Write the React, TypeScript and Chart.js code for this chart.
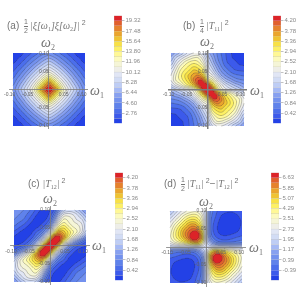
import React, { useEffect, useRef } from "react";
import { Chart, registerables, ScatterController } from "chart.js";

Chart.register(...registerables);

const axisSteps = [0.1, 0.0875, 0.075, 0.0625, 0.05, 0.0375, 0.025, 0.0125, 0, -0.0125, -0.025, -0.0375, -0.05, -0.0625, -0.075, -0.0875, -0.1];
const axisTicks = [-0.1, -0.05, 0.05, 0.1];

const bandColors = [
  "rgb(35,65,230)", "rgb(60,90,235)", "rgb(75,110,235)", "rgb(95,130,235)", "rgb(115,145,238)",
  "rgb(135,160,240)", "rgb(165,185,245)", "rgb(190,205,245)", "rgb(210,220,245)", "rgb(225,230,245)",
  "rgb(238,238,232)", "rgb(245,245,215)", "rgb(252,250,190)", "rgb(255,248,150)", "rgb(253,240,100)",
  "rgb(248,225,70)", "rgb(240,195,50)", "rgb(235,165,45)", "rgb(230,130,45)", "rgb(225,95,45)", "rgb(220,35,40)",
];

const ticksA = [19.32, 17.48, 15.64, 13.8, 11.96, 10.12, 8.28, 6.44, 4.6, 2.76];
const ticksB = [4.2, 3.78, 3.36, 2.94, 2.52, 2.1, 1.68, 1.26, 0.84, 0.42];
const ticksC = [4.2, 3.78, 3.36, 2.94, 2.52, 2.1, 1.68, 1.26, 0.84, 0.42];
const ticksD = [6.63, 5.85, 5.07, 4.29, 3.51, 2.73, 1.95, 1.17, 0.39, -0.39];

const gridA = [
  [1.1, 1.3, 1.7, 2.1, 2.7, 3.3, 3.9, 4.5, 5.0, 4.5, 3.9, 3.3, 2.7, 2.1, 1.7, 1.3, 1.1],
  [1.3, 1.7, 2.1, 2.8, 3.5, 4.2, 5.0, 5.7, 6.2, 5.7, 5.0, 4.2, 3.5, 2.8, 2.1, 1.7, 1.3],
  [1.7, 2.1, 2.8, 3.5, 4.4, 5.2, 6.1, 7.0, 7.6, 7.0, 6.1, 5.2, 4.4, 3.5, 2.8, 2.1, 1.7],
  [2.1, 2.8, 3.5, 4.5, 5.4, 6.4, 7.4, 8.3, 9.0, 8.3, 7.4, 6.4, 5.4, 4.5, 3.5, 2.8, 2.1],
  [2.7, 3.5, 4.4, 5.4, 6.5, 7.6, 8.7, 9.8, 10.6, 9.8, 8.7, 7.6, 6.5, 5.4, 4.4, 3.5, 2.7],
  [3.3, 4.2, 5.2, 6.4, 7.6, 8.8, 10.1, 11.5, 12.6, 11.5, 10.1, 8.8, 7.6, 6.4, 5.2, 4.2, 3.3],
  [3.9, 5.0, 6.1, 7.4, 8.7, 10.1, 11.8, 13.8, 15.5, 13.8, 11.8, 10.1, 8.7, 7.4, 6.1, 5.0, 3.9],
  [4.5, 5.7, 7.0, 8.3, 9.8, 11.5, 13.8, 16.4, 18.5, 16.4, 13.8, 11.5, 9.8, 8.3, 7.0, 5.7, 4.5],
  [5.0, 6.2, 7.6, 9.0, 10.6, 12.6, 15.5, 18.5, 20.2, 18.5, 15.5, 12.6, 10.6, 9.0, 7.6, 6.2, 5.0],
  [4.5, 5.7, 7.0, 8.3, 9.8, 11.5, 13.8, 16.4, 18.5, 16.4, 13.8, 11.5, 9.8, 8.3, 7.0, 5.7, 4.5],
  [3.9, 5.0, 6.1, 7.4, 8.7, 10.1, 11.8, 13.8, 15.5, 13.8, 11.8, 10.1, 8.7, 7.4, 6.1, 5.0, 3.9],
  [3.3, 4.2, 5.2, 6.4, 7.6, 8.8, 10.1, 11.5, 12.6, 11.5, 10.1, 8.8, 7.6, 6.4, 5.2, 4.2, 3.3],
  [2.7, 3.5, 4.4, 5.4, 6.5, 7.6, 8.7, 9.8, 10.6, 9.8, 8.7, 7.6, 6.5, 5.4, 4.4, 3.5, 2.7],
  [2.1, 2.8, 3.5, 4.5, 5.4, 6.4, 7.4, 8.3, 9.0, 8.3, 7.4, 6.4, 5.4, 4.5, 3.5, 2.8, 2.1],
  [1.7, 2.1, 2.8, 3.5, 4.4, 5.2, 6.1, 7.0, 7.6, 7.0, 6.1, 5.2, 4.4, 3.5, 2.8, 2.1, 1.7],
  [1.3, 1.7, 2.1, 2.8, 3.5, 4.2, 5.0, 5.7, 6.2, 5.7, 5.0, 4.2, 3.5, 2.8, 2.1, 1.7, 1.3],
  [1.1, 1.3, 1.7, 2.1, 2.7, 3.3, 3.9, 4.5, 5.0, 4.5, 3.9, 3.3, 2.7, 2.1, 1.7, 1.3, 1.1],
];

const gridB = [
  [1.1, 1.3, 1.5, 1.75, 2.0, 2.1, 2.1, 1.85, 1.4, 1.1, 0.85, 0.62, 0.42, 0.24, 0.14, 0.08, 0.05],
  [1.3, 1.65, 1.9, 2.15, 2.35, 2.5, 2.5, 2.15, 1.6, 1.25, 0.9, 0.66, 0.44, 0.26, 0.16, 0.12, 0.08],
  [1.5, 1.9, 2.25, 2.55, 2.75, 2.85, 2.75, 2.4, 1.8, 1.4, 1.0, 0.72, 0.48, 0.32, 0.25, 0.16, 0.14],
  [1.75, 2.15, 2.55, 2.8, 3.0, 3.15, 3.05, 2.75, 2.0, 1.6, 1.2, 0.85, 0.6, 0.45, 0.32, 0.26, 0.24],
  [2.0, 2.35, 2.75, 3.0, 3.2, 3.45, 3.35, 3.05, 2.2, 1.85, 1.4, 1.05, 0.8, 0.6, 0.48, 0.44, 0.42],
  [2.1, 2.5, 2.85, 3.15, 3.45, 3.7, 3.85, 3.45, 2.5, 2.2, 1.75, 1.3, 1.05, 0.85, 0.72, 0.66, 0.62],
  [2.1, 2.5, 2.75, 3.05, 3.35, 3.85, 4.2, 4.15, 3.1, 2.7, 2.2, 1.75, 1.4, 1.2, 1.0, 0.9, 0.85],
  [1.85, 2.15, 2.4, 2.75, 3.05, 3.45, 4.15, 4.5, 4.25, 3.4, 2.7, 2.2, 1.85, 1.6, 1.4, 1.25, 1.1],
  [1.4, 1.6, 1.8, 2.0, 2.2, 2.5, 3.1, 4.25, 4.62, 4.25, 3.1, 2.5, 2.2, 2.0, 1.8, 1.6, 1.4],
  [1.1, 1.25, 1.4, 1.6, 1.85, 2.2, 2.7, 3.4, 4.25, 4.5, 4.15, 3.45, 3.05, 2.75, 2.4, 2.15, 1.85],
  [0.85, 0.9, 1.0, 1.2, 1.4, 1.75, 2.2, 2.7, 3.1, 4.15, 4.2, 3.85, 3.35, 3.05, 2.75, 2.5, 2.1],
  [0.62, 0.66, 0.72, 0.85, 1.05, 1.3, 1.75, 2.2, 2.5, 3.45, 3.85, 3.7, 3.45, 3.15, 2.85, 2.5, 2.1],
  [0.42, 0.44, 0.48, 0.6, 0.8, 1.05, 1.4, 1.85, 2.2, 3.05, 3.35, 3.45, 3.2, 3.0, 2.75, 2.35, 2.0],
  [0.24, 0.26, 0.32, 0.45, 0.6, 0.85, 1.2, 1.6, 2.0, 2.75, 3.05, 3.15, 3.0, 2.8, 2.55, 2.15, 1.75],
  [0.14, 0.16, 0.25, 0.32, 0.48, 0.72, 1.0, 1.4, 1.8, 2.4, 2.75, 2.85, 2.75, 2.55, 2.25, 1.9, 1.5],
  [0.08, 0.12, 0.16, 0.26, 0.44, 0.66, 0.9, 1.25, 1.6, 2.15, 2.5, 2.5, 2.35, 2.15, 1.9, 1.65, 1.3],
  [0.05, 0.08, 0.14, 0.24, 0.42, 0.62, 0.85, 1.1, 1.4, 1.85, 2.1, 2.1, 2.0, 1.75, 1.5, 1.3, 1.1],
];

const gridC = [
  [0.98, 0.92, 0.85, 0.72, 0.55, 0.35, 0.18, 0.08, 0.2, 0.45, 1.05, 1.55, 1.75, 1.75, 1.55, 1.3, 1.05],
  [0.92, 0.85, 0.75, 0.6, 0.42, 0.22, 0.1, 0.1, 0.3, 0.75, 1.5, 2.1, 2.2, 2.1, 1.9, 1.6, 1.3],
  [0.85, 0.75, 0.65, 0.48, 0.28, 0.12, 0.08, 0.18, 0.45, 1.1, 1.95, 2.5, 2.45, 2.3, 2.05, 1.9, 1.55],
  [0.72, 0.6, 0.48, 0.32, 0.15, 0.08, 0.18, 0.35, 0.75, 1.55, 2.45, 2.8, 2.6, 2.4, 2.3, 2.1, 1.75],
  [0.55, 0.42, 0.28, 0.15, 0.08, 0.2, 0.35, 0.7, 1.2, 2.3, 3.0, 3.15, 2.9, 2.6, 2.45, 2.2, 1.75],
  [0.35, 0.22, 0.12, 0.08, 0.2, 0.45, 0.7, 1.2, 2.0, 3.1, 3.75, 3.5, 3.15, 2.8, 2.5, 2.1, 1.55],
  [0.18, 0.1, 0.08, 0.18, 0.35, 0.7, 1.15, 2.0, 3.1, 4.2, 4.3, 3.75, 3.0, 2.45, 1.95, 1.5, 1.05],
  [0.08, 0.1, 0.18, 0.35, 0.7, 1.2, 2.0, 3.0, 4.2, 4.5, 4.2, 3.1, 2.3, 1.55, 1.1, 0.75, 0.45],
  [0.2, 0.3, 0.45, 0.75, 1.2, 2.0, 3.1, 4.2, 4.62, 4.2, 3.1, 2.0, 1.2, 0.75, 0.45, 0.3, 0.2],
  [0.45, 0.75, 1.1, 1.55, 2.3, 3.1, 4.2, 4.5, 4.2, 3.0, 2.0, 1.2, 0.7, 0.35, 0.18, 0.1, 0.08],
  [1.05, 1.5, 1.95, 2.45, 3.0, 3.75, 4.3, 4.2, 3.1, 2.0, 1.15, 0.7, 0.35, 0.18, 0.08, 0.1, 0.18],
  [1.55, 2.1, 2.5, 2.8, 3.15, 3.5, 3.75, 3.1, 2.0, 1.2, 0.7, 0.45, 0.2, 0.08, 0.12, 0.22, 0.35],
  [1.75, 2.2, 2.45, 2.6, 2.9, 3.15, 3.0, 2.3, 1.2, 0.7, 0.35, 0.2, 0.08, 0.15, 0.28, 0.42, 0.55],
  [1.75, 2.1, 2.3, 2.4, 2.6, 2.8, 2.45, 1.55, 0.75, 0.35, 0.18, 0.08, 0.15, 0.32, 0.48, 0.6, 0.72],
  [1.55, 1.9, 2.05, 2.3, 2.45, 2.5, 1.95, 1.1, 0.45, 0.18, 0.08, 0.12, 0.28, 0.48, 0.65, 0.75, 0.85],
  [1.3, 1.6, 1.9, 2.1, 2.2, 2.1, 1.5, 0.75, 0.3, 0.1, 0.1, 0.22, 0.42, 0.6, 0.75, 0.85, 0.92],
  [1.05, 1.3, 1.55, 1.75, 1.75, 1.55, 1.05, 0.45, 0.2, 0.08, 0.18, 0.35, 0.55, 0.72, 0.85, 0.92, 0.98],
];

const gridD = [
  [1.5, 2.0, 2.5, 2.9, 3.2, 3.4, 3.4, 2.9, 1.9, 0.35, -0.2, -0.55, -0.7, -0.75, -0.75, -0.65, -0.5],
  [2.0, 2.5, 3.0, 3.5, 3.9, 4.1, 4.0, 3.4, 2.0, 0.25, -0.3, -0.7, -0.85, -0.9, -0.88, -0.8, -0.65],
  [2.5, 3.0, 3.5, 4.1, 4.6, 4.8, 4.6, 3.8, 2.1, 0.15, -0.45, -0.8, -0.95, -0.98, -0.95, -0.88, -0.75],
  [2.9, 3.5, 4.1, 4.7, 5.3, 5.6, 5.3, 4.3, 2.2, 0.1, -0.55, -0.88, -0.98, -1.0, -0.98, -0.9, -0.75],
  [3.2, 3.9, 4.6, 5.3, 5.9, 6.3, 6.1, 4.8, 2.3, 0.1, -0.6, -0.88, -0.95, -0.98, -0.95, -0.85, -0.7],
  [3.4, 4.1, 4.8, 5.6, 6.3, 6.9, 7.1, 5.3, 2.35, 0.2, -0.5, -0.8, -0.88, -0.88, -0.8, -0.7, -0.55],
  [3.4, 4.0, 4.6, 5.3, 6.1, 7.1, 6.9, 5.6, 2.4, 0.5, -0.2, -0.5, -0.6, -0.55, -0.45, -0.3, -0.2],
  [2.9, 3.4, 3.8, 4.3, 4.8, 5.3, 5.6, 4.4, 2.35, 1.2, 0.5, 0.2, 0.1, 0.1, 0.15, 0.25, 0.35],
  [1.9, 2.0, 2.1, 2.2, 2.3, 2.35, 2.4, 2.35, 2.3, 2.35, 2.4, 2.35, 2.3, 2.2, 2.1, 2.0, 1.9],
  [0.35, 0.25, 0.15, 0.1, 0.1, 0.2, 0.5, 1.2, 2.35, 4.4, 5.6, 5.3, 4.8, 4.3, 3.8, 3.4, 2.9],
  [-0.2, -0.3, -0.45, -0.55, -0.6, -0.5, -0.2, 0.5, 2.4, 5.6, 6.9, 7.1, 6.1, 5.3, 4.6, 4.0, 3.4],
  [-0.55, -0.7, -0.8, -0.88, -0.88, -0.8, -0.5, 0.2, 2.35, 5.3, 7.1, 6.9, 6.3, 5.6, 4.8, 4.1, 3.4],
  [-0.7, -0.85, -0.95, -0.98, -0.95, -0.88, -0.6, 0.1, 2.3, 4.8, 6.1, 6.3, 5.9, 5.3, 4.6, 3.9, 3.2],
  [-0.75, -0.9, -0.98, -1.0, -0.98, -0.88, -0.55, 0.1, 2.2, 4.3, 5.3, 5.6, 5.3, 4.7, 4.1, 3.5, 2.9],
  [-0.75, -0.88, -0.95, -0.98, -0.95, -0.8, -0.45, 0.15, 2.1, 3.8, 4.6, 4.8, 4.6, 4.1, 3.5, 3.0, 2.5],
  [-0.65, -0.8, -0.88, -0.9, -0.85, -0.7, -0.3, 0.25, 2.0, 3.4, 4.0, 4.1, 3.9, 3.5, 3.0, 2.5, 2.0],
  [-0.5, -0.65, -0.75, -0.75, -0.7, -0.55, -0.2, 0.35, 1.9, 2.9, 3.4, 3.4, 3.2, 2.9, 2.5, 2.0, 1.5],
];

const TICK = "#666666";
const BAR_TICK = "#8a8a8a";
const AXIS = "#7c7c7c";
const TEXT = "#757575";
const SERIF = "'Liberation Serif', serif";
const SANS = "'Liberation Sans', sans-serif";

function sampleGrid(values: number[], n: number, gx: number, gy: number) {
  const at = (r: number, c: number) =>
    values[Math.max(0, Math.min(n - 1, r)) * n + Math.max(0, Math.min(n - 1, c))];
  const cr = (p0: number, p1: number, p2: number, p3: number, t: number) =>
    0.5 * (2 * p1 + (p2 - p0) * t + (2 * p0 - 5 * p1 + 4 * p2 - p3) * t * t + (3 * p1 - p0 - 3 * p2 + p3) * t * t * t);
  const ix = Math.floor(gx), iy = Math.floor(gy);
  const tx = gx - ix, ty = gy - iy;
  const row = (r: number) => cr(at(r, ix - 1), at(r, ix), at(r, ix + 1), at(r, ix + 2), tx);
  return cr(row(iy - 1), row(iy), row(iy + 1), row(iy + 2), ty);
}

class ContourController extends ScatterController {
  static id = "contour";
  static defaults = { ...ScatterController.defaults };
  static overrides = ScatterController.overrides;
  draw() {
    const chart: any = this.chart;
    const { ctx } = chart;
    const sx = chart.scales.x, sy = chart.scales.y;
    const ds: any = this.getDataset();
    const n = ds.gridSize;
    const vals = ds.data.map((p: any) => p.v);
    const L = Math.round(sx.getPixelForValue(axisSteps[16])), R = Math.round(sx.getPixelForValue(axisSteps[0]));
    const T = Math.round(sy.getPixelForValue(axisSteps[0])), B = Math.round(sy.getPixelForValue(axisSteps[16]));
    const W = R - L, H = B - T;
    const f = new Float32Array((W + 1) * (H + 1));
    for (let r = 0; r <= H; r++)
      for (let c = 0; c <= W; c++)
        f[r * (W + 1) + c] = sampleGrid(vals, n, (c / W) * (n - 1), (r / H) * (n - 1));
    const lo = ds.levelLow, step = ds.levelStep;
    for (let r = 0; r < H; r++)
      for (let c = 0; c < W; c++) {
        const i = r * (W + 1) + c;
        const m = (f[i] + f[i + 1] + f[i + W + 1] + f[i + W + 2]) / 4;
        const k = Math.max(0, Math.min(20, Math.floor((m - lo) / step)));
        ctx.fillStyle = bandColors[k];
        ctx.fillRect(L + c, T + r, 1, 1);
      }
    ctx.strokeStyle = "rgba(50,50,50,0.55)";
    ctx.lineWidth = 0.5;
    for (let k = 1; k <= 20; k++) {
      const level = lo + k * step;
      ctx.beginPath();
      for (let r = 0; r < H; r++)
        for (let c = 0; c < W; c++) {
          const i = r * (W + 1) + c;
          const a = f[i], b = f[i + 1], d = f[i + W + 1], e = f[i + W + 2];
          const pts: number[][] = [];
          if (a < level !== b < level) pts.push([c + (level - a) / (b - a), r]);
          if (b < level !== e < level) pts.push([c + 1, r + (level - b) / (e - b)]);
          if (d < level !== e < level) pts.push([c + (level - d) / (e - d), r + 1]);
          if (a < level !== d < level) pts.push([c, r + (level - a) / (d - a)]);
          for (let q = 0; q + 1 < pts.length; q += 2) {
            ctx.moveTo(L + pts[q][0], T + pts[q][1]);
            ctx.lineTo(L + pts[q + 1][0], T + pts[q + 1][1]);
          }
        }
      ctx.stroke();
    }
  }
}
Chart.register(ContourController as any);

function HeatPanel({ left, top, cx, cy, grid, low, step, axisWidth }: any) {
  const ref = useRef<HTMLCanvasElement>(null);
  useEffect(() => {
    const size = 153;
    const half = 36 * 1.09;
    const data = grid.flatMap((row: number[], r: number) =>
      row.map((v, c) => ({ x: axisSteps[c], y: axisSteps[r], v }))
    );
    const common = (extra: any) => ({
      type: "linear",
      min: -0.109,
      max: 0.109,
      afterBuildTicks: (s: any) => { s.ticks = axisTicks.map((value) => ({ value })); },
      grid: { display: true, drawOnChartArea: false, tickLength: 1.5, tickColor: AXIS, tickWidth: 0.5, z: 2 },
      border: { display: true, color: AXIS, width: axisWidth, z: 2 },
      ...extra,
    });
    const chart = new Chart(ref.current!, {
      type: "contour" as any,
      data: {
        datasets: [{
          data, gridSize: grid.length, levelLow: low, levelStep: step, pointRadius: 0,
        } as any],
      },
      options: {
        animation: false,
        responsive: false,
        layout: { padding: { left: cx - left - half, top: cy - top - half, right: size - (cx - left) - half, bottom: size - (cy - top) - half } },
        plugins: { legend: { display: false }, tooltip: { enabled: false }, title: { display: false } },
        scales: {
          x: common({
            position: { y: 0 },
            ticks: {
              autoSkip: false, maxRotation: 0, color: TICK, padding: 1, labelOffset: -3, z: 3,
              font: { size: 5, family: SANS },
              callback: (v: any) => Number(v).toFixed(2),
            },
          }),
          y: common({
            position: { x: 0 },
            ticks: {
              autoSkip: false, color: TICK, padding: 1, z: 3,
              font: { size: 5, family: SANS },
              callback: (v: any) => Number(v).toFixed(2),
            },
          }),
        } as any,
      },
    });
    return () => chart.destroy();
  }, []);
  return <canvas ref={ref} width={153} height={153} style={{ position: "absolute", left, top, width: 153, height: 153 }} />;
}

function ColorBar({ left, top, width, height, low, step, ticks }: any) {
  const ref = useRef<HTMLCanvasElement>(null);
  const labelWidth = 24;
  useEffect(() => {
    const chart = new Chart(ref.current!, {
      type: "bar",
      data: {
        labels: [""],
        datasets: bandColors.map((c, k) => ({
          data: [[low + k * step, low + (k + 1) * step]],
          backgroundColor: c,
          borderColor: "rgba(110,110,110,0.35)",
          borderWidth: 0.5,
          barPercentage: 1,
          categoryPercentage: 1,
          grouped: false,
        })) as any,
      },
      options: {
        animation: false,
        responsive: false,
        layout: { padding: { top: 3, bottom: 3, left: 0, right: 0 } },
        plugins: { legend: { display: false }, tooltip: { enabled: false } },
        scales: {
          x: { display: false },
          y: {
            type: "linear",
            position: "right",
            min: low,
            max: low + 21 * step,
            afterBuildTicks: (s: any) => { s.ticks = ticks.map((value: number) => ({ value })); },
            afterFit: (s: any) => { s.width = labelWidth; },
            grid: { display: true, drawOnChartArea: false, tickLength: 2.5, tickColor: "#999", tickWidth: 0.6 },
            border: { display: false },
            ticks: {
              autoSkip: false, color: BAR_TICK, padding: 1,
              font: { size: 6, family: SANS },
              callback: (v: any) => Number(v).toFixed(2),
            },
          },
        } as any,
      },
    });
    return () => chart.destroy();
  }, []);
  return (
    <canvas ref={ref} width={width + labelWidth} height={height + 6}
      style={{ position: "absolute", left, top: top - 3, width: width + labelWidth, height: height + 6 }} />
  );
}

const Om = ({ i, left, top }: any) => (
  <div style={{ position: "absolute", left, top, fontFamily: SERIF, fontStyle: "italic", fontSize: 14, lineHeight: "14px", color: TEXT, whiteSpace: "nowrap" }}>
    ω<sub style={{ fontSize: 8, fontStyle: "normal", verticalAlign: -3, lineHeight: 0 }}>{i}</sub>
  </div>
);

const Frac = ({ n, d }: any) => (
  <span style={{ display: "inline-block", verticalAlign: "middle", textAlign: "center", fontSize: 7, lineHeight: "8px", margin: "0 2px", fontFamily: SANS }}>
    <span style={{ display: "block", borderBottom: `0.6px solid ${TEXT}` }}>{n}</span>
    <span style={{ display: "block" }}>{d}</span>
  </span>
);

const Sub = ({ c }: any) => <sub style={{ fontSize: 6, verticalAlign: -2, lineHeight: 0, fontStyle: "normal" }}>{c}</sub>;
const Sup = () => <sup style={{ fontSize: 7, verticalAlign: 4, lineHeight: 0, marginLeft: 2 }}>2</sup>;

const Title = ({ left, top, children }: any) => (
  <div style={{ position: "absolute", left, top, fontFamily: SANS, fontSize: 10, lineHeight: "18px", height: 18, color: TEXT, whiteSpace: "nowrap" }}>
    {children}
  </div>
);
const It = ({ children }: any) => <span style={{ fontFamily: SERIF, fontStyle: "italic" }}>{children}</span>;

export default function App() {
  return (
    <div style={{ position: "absolute", left: 0, top: 0, width: 306, height: 306, overflow: "hidden", background: "#fff", filter: "blur(0.45px)" }}>
      <HeatPanel left={0} top={0} cx={48.7} cy={89.5} grid={gridA} low={0.92} step={0.92} axisWidth={0.8} />
      <HeatPanel left={153} top={0} cx={207.5} cy={89.5} grid={gridB} low={0} step={0.21} axisWidth={1.5} />
      <HeatPanel left={0} top={153} cx={50} cy={245.7} grid={gridC} low={0} step={0.21} axisWidth={0.8} />
      <HeatPanel left={153} top={153} cx={206.2} cy={247} grid={gridD} low={-1.17} step={0.39} axisWidth={0.8} />

      <ColorBar left={114} top={13.5} width={8} height={111} low={0.92} step={0.92} ticks={ticksA} />
      <ColorBar left={273} top={13.7} width={8} height={111} low={0} step={0.21} ticks={ticksB} />
      <ColorBar left={115} top={171.3} width={8} height={111} low={0} step={0.21} ticks={ticksC} />
      <ColorBar left={271} top={171} width={8} height={111} low={-1.17} step={0.39} ticks={ticksD} />

      <Title left={7} top={17}>(a) <Frac n="1" d="2" /><It>|ξ[ω<Sub c="1" />]ξ[ω<Sub c="2" />]|</It><Sup /></Title>
      <Title left={183} top={17}>(b) <Frac n="1" d="4" /><It>|T<Sub c="11" />|</It><Sup /></Title>
      <Title left={28} top={175}>(c) <It>|T<Sub c="12" />|</It><Sup /></Title>
      <Title left={164} top={175}>(d) <Frac n="1" d="2" /><It>|T<Sub c="11" />|</It><Sup />−<It>|T<Sub c="12" />|</It><Sup /></Title>

      <Om i="2" left={41} top={36} />
      <Om i="1" left={90} top={84} />
      <Om i="2" left={200} top={35} />
      <Om i="1" left={250} top={84} />
      <Om i="2" left={43} top={192} />
      <Om i="1" left={92} top={239} />
      <Om i="2" left={199} top={195} />
      <Om i="1" left={249} top={241} />
    </div>
  );
}
